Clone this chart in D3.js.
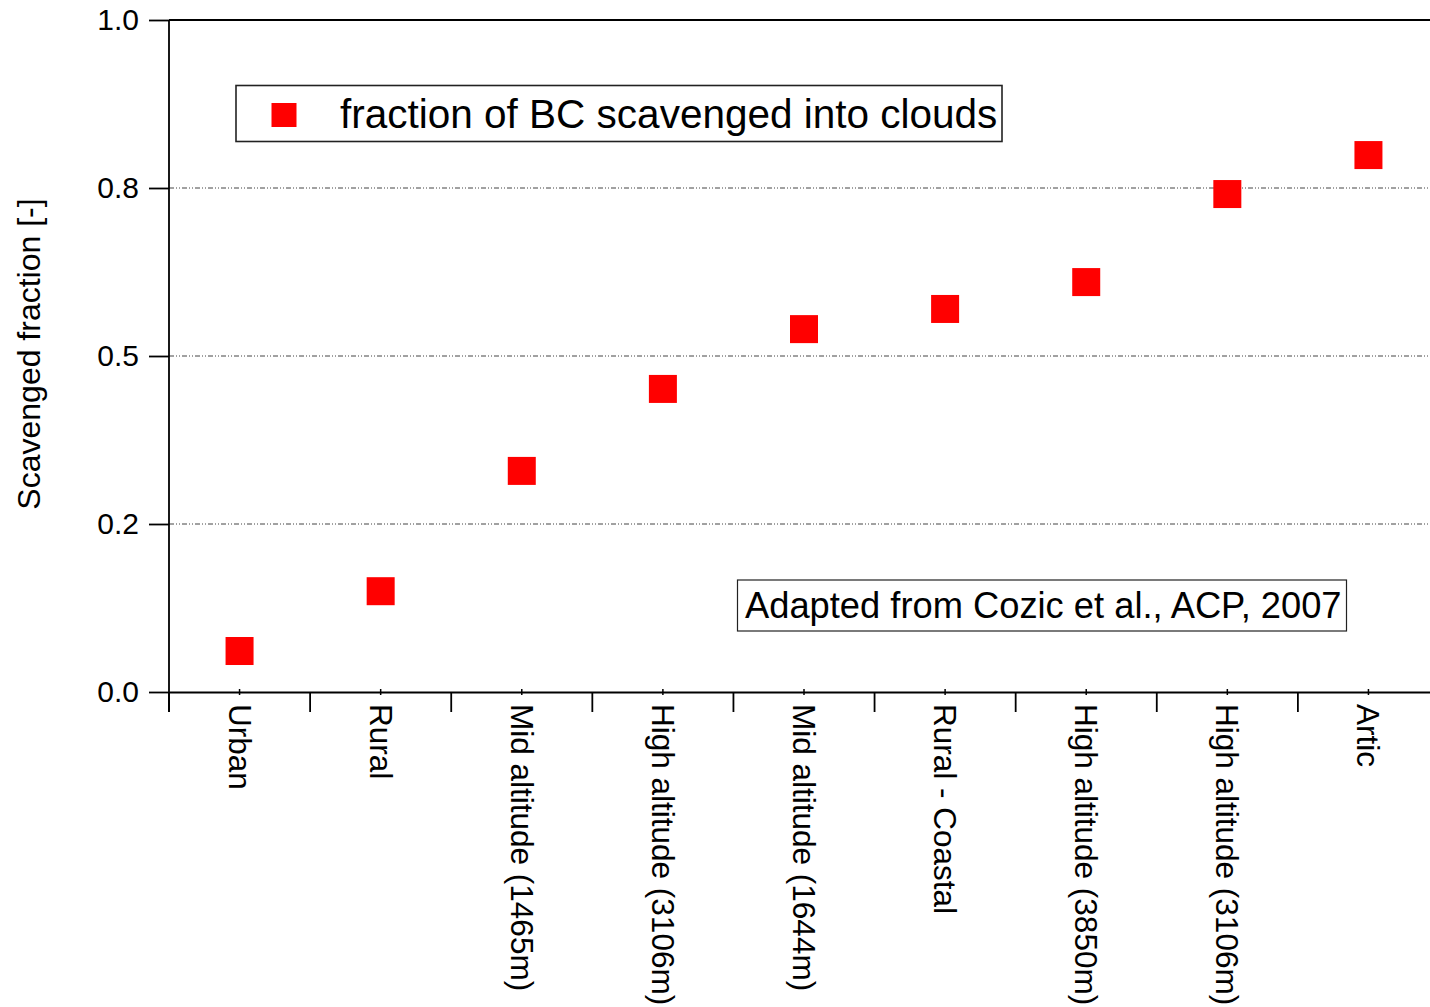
<!DOCTYPE html>
<html>
<head>
<meta charset="utf-8">
<script src="https://cdn.jsdelivr.net/npm/d3@7"></script>
<style>
  body { margin: 0; background: #fff; }
  svg { display: block; font-family: "Liberation Sans", Arial, sans-serif; }
</style>
</head>
<body>
<div id="chart-container"></div>
<script>
// Chart data
const categories = [
    "Urban", "Rural", "Mid altitude (1465m)", "High altitude (3106m)",
    "Mid altitude (1644m)", "Rural - Coastal", "High altitude (3850m)",
    "High altitude (3106m) ", "Artic"
];
const scavengedFraction = [0.061, 0.150, 0.329, 0.451, 0.540, 0.570, 0.610, 0.741, 0.799];
const yTickValues = [0, 0.25, 0.5, 0.75, 1.0];
const yTickLabels = ["0.0", "0.2", "0.5", "0.8", "1.0"];
const gridValues = [0.25, 0.5, 0.75];
const legendLabel = "fraction of BC scavenged into clouds";
const noteLabel = "Adapted from Cozic et al., ACP, 2007";
const yAxisTitle = "Scavenged fraction [-]";

const width = 1430, height = 1007;
const margin = { top: 20, left: 169 };
const plotBottom = 692;
const plotRight = 1439;   // last band runs past the picture edge

const svg = d3.select("#chart-container")
    .append("svg")
    .attr("width", width)
    .attr("height", height);

// Scales
const x = d3.scaleBand()
    .domain(categories)
    .range([margin.left, plotRight])
    .padding(0);

const y = d3.scaleLinear()
    .domain([0, 1])
    .range([plotBottom, margin.top]);

// Dotted grid lines
svg.append("g")
    .selectAll("line")
    .data(gridValues)
    .enter()
    .append("line")
    .attr("x1", margin.left)
    .attr("x2", plotRight)
    .attr("y1", d => y(d))
    .attr("y2", d => y(d))
    .attr("stroke", "#444")
    .attr("stroke-width", 1)
    .attr("stroke-dasharray", "5,2,1,2,1,2");

// Top frame line
svg.append("line")
    .attr("x1", margin.left)
    .attr("x2", plotRight)
    .attr("y1", y(1))
    .attr("y2", y(1))
    .attr("stroke", "#000")
    .attr("stroke-width", 1.8);

// Y axis
const yAxis = svg.append("g")
    .attr("transform", `translate(${margin.left},0)`)
    .call(d3.axisLeft(y)
        .tickValues(yTickValues)
        .tickFormat((d, i) => yTickLabels[i])
        .tickSize(20)
        .tickSizeOuter(0)
        .tickPadding(10));
yAxis.select(".domain").attr("stroke", "#000").attr("stroke-width", 1.8)
    .attr("d", `M0,${y(1)}V${y(0) + 20}`);
yAxis.selectAll(".tick line").attr("stroke", "#000").attr("stroke-width", 1.8);
yAxis.selectAll(".tick text")
    .attr("font-size", 30)
    .attr("font-family", "Liberation Sans, Arial, sans-serif")
    .attr("fill", "#000");

// X axis (minor ticks at category centres, labels rotated)
const xAxis = svg.append("g")
    .attr("transform", `translate(0,${y(0)})`)
    .call(d3.axisBottom(x).tickSize(3).tickSizeOuter(0).tickPadding(0));
xAxis.select(".domain").attr("stroke", "#000").attr("stroke-width", 1.8);
xAxis.selectAll(".tick line").attr("y1", -3).attr("stroke", "#000").attr("stroke-width", 1.5);
xAxis.selectAll(".tick text")
    .attr("font-size", 31.5)
    .attr("font-family", "Liberation Sans, Arial, sans-serif")
    .attr("fill", "#000")
    .attr("text-anchor", "start")
    .attr("y", 0)
    .attr("dy", "0.35em")
    .attr("transform", "translate(0,12) rotate(90)");

// Major ticks between categories
xAxis.selectAll(".major")
    .data(categories)
    .enter()
    .append("line")
    .attr("class", "major")
    .attr("x1", d => x(d))
    .attr("x2", d => x(d))
    .attr("y1", 0)
    .attr("y2", 20)
    .attr("stroke", "#000")
    .attr("stroke-width", 1.8);

// Data squares
const sq = 28;
svg.append("g")
    .selectAll("rect")
    .data(scavengedFraction)
    .enter()
    .append("rect")
    .attr("x", (d, i) => x(categories[i]) + x.bandwidth() / 2 - sq / 2)
    .attr("y", d => y(d) - sq / 2)
    .attr("width", sq)
    .attr("height", sq)
    .attr("fill", "#ff0000");

// Y axis title
svg.append("text")
    .attr("transform", `translate(40,354) rotate(-90)`)
    .attr("text-anchor", "middle")
    .attr("font-size", 32)
    .attr("fill", "#000")
    .text(yAxisTitle);

// Legend
const legend = svg.append("g");
legend.append("rect")
    .attr("x", 236).attr("y", 85.5)
    .attr("width", 766).attr("height", 56)
    .attr("fill", "#fff")
    .attr("stroke", "#222")
    .attr("stroke-width", 1.6);
legend.append("rect")
    .attr("x", 271.5).attr("y", 103)
    .attr("width", 25).attr("height", 24)
    .attr("fill", "#ff0000");
legend.append("text")
    .attr("x", 340)
    .attr("y", 127.5)
    .attr("font-size", 40.5)
    .attr("fill", "#000")
    .text(legendLabel);

// Source note
const note = svg.append("g");
note.append("rect")
    .attr("x", 737.5).attr("y", 580)
    .attr("width", 609).attr("height", 51)
    .attr("fill", "#fff")
    .attr("stroke", "#222")
    .attr("stroke-width", 1.2);
note.append("text")
    .attr("x", 745)
    .attr("y", 618)
    .attr("font-size", 36.3)
    .attr("fill", "#000")
    .text(noteLabel);
</script>
</body>
</html>
